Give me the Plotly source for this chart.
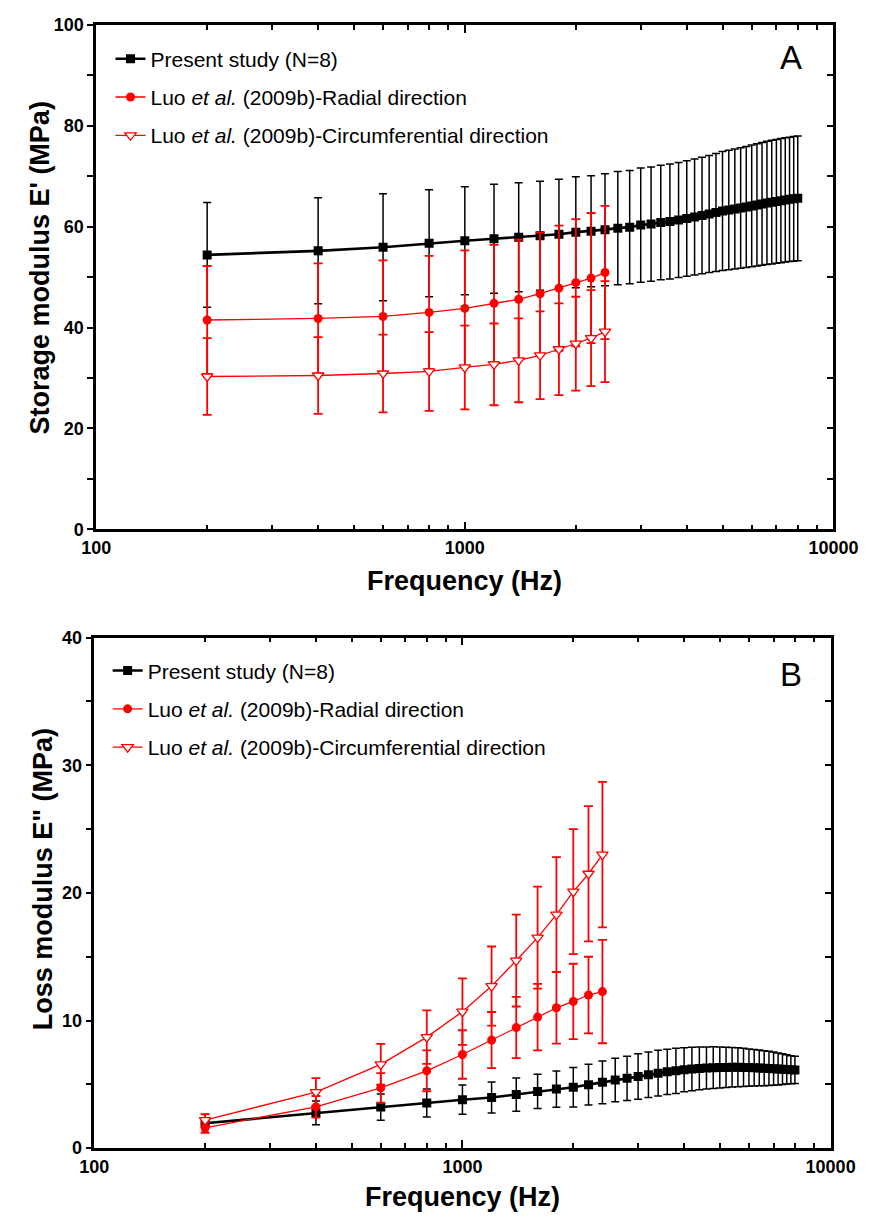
import plotly.graph_objects as go

# ---------------- data ----------------
freq_present = [200 * i for i in range(1, 41)]
freq_luo = [200 * i for i in range(1, 13)]

# Panel A: storage modulus E' (MPa)
A_present = [54.4, 55.2, 55.9, 56.7, 57.2, 57.6, 57.9, 58.2, 58.5, 58.9,
             59.1, 59.4, 59.7, 59.9, 60.3, 60.5, 60.8, 61.0, 61.3, 61.6,
             61.9, 62.2, 62.5, 62.8, 63.1, 63.3, 63.5, 63.7, 63.9, 64.1,
             64.3, 64.5, 64.7, 64.85, 65.0, 65.15, 65.3, 65.4, 65.5, 65.6]
A_present_sd = [10.4, 10.5, 10.6, 10.6, 10.7, 10.8, 10.8, 10.8, 10.9, 11.0,
                11.0, 11.1, 11.2, 11.2, 11.3, 11.3, 11.35, 11.4, 11.4, 11.45,
                11.5, 11.55, 11.6, 11.7, 11.8, 11.85, 11.9, 11.95, 12.0, 12.05,
                12.1, 12.15, 12.2, 12.25, 12.25, 12.3, 12.3, 12.3, 12.35, 12.35]
A_radial = [41.5, 41.8, 42.2, 43.0, 43.8, 44.8, 45.6, 46.7, 47.8, 48.9, 49.8, 50.9]
A_radial_sd = [10.7, 10.9, 11.1, 11.2, 11.5, 11.6, 11.8, 12.1, 12.4, 12.6, 12.9, 13.2]
A_circ = [30.3, 30.5, 30.9, 31.3, 32.1, 32.7, 33.5, 34.5, 35.7, 36.8, 37.9, 39.2]
A_circ_sd = [7.6, 7.6, 7.7, 7.8, 8.3, 8.1, 8.3, 8.7, 9.1, 9.3, 9.5, 10.0]

# Panel B: loss modulus E'' (MPa)
B_present = [1.95, 2.77, 3.22, 3.54, 3.8, 3.97, 4.2, 4.45, 4.63, 4.78,
             4.98, 5.16, 5.34, 5.47, 5.62, 5.75, 5.88, 5.98, 6.06, 6.14,
             6.2, 6.25, 6.28, 6.31, 6.32, 6.33, 6.34, 6.34, 6.33, 6.32,
             6.31, 6.29, 6.27, 6.25, 6.23, 6.21, 6.19, 6.17, 6.15, 6.13]
B_present_sd = [0.7, 0.93, 1.03, 1.1, 1.15, 1.22, 1.3, 1.35, 1.42, 1.55,
                1.6, 1.68, 1.7, 1.73, 1.78, 1.78, 1.8, 1.78, 1.77, 1.72,
                1.7, 1.68, 1.65, 1.63, 1.6, 1.58, 1.55, 1.53, 1.5, 1.46,
                1.43, 1.4, 1.37, 1.34, 1.3, 1.25, 1.2, 1.15, 1.1, 1.07]
B_radial = [1.6, 3.24, 4.72, 6.06, 7.34, 8.47, 9.45, 10.27, 11.0, 11.5, 12.0, 12.27]
B_radial_sd = [0.4, 0.85, 1.16, 1.6, 1.9, 2.2, 2.4, 2.6, 2.8, 2.95, 3.0, 4.05]
B_circ = [2.2, 4.39, 6.57, 8.7, 10.7, 12.7, 14.7, 16.5, 18.3, 20.1, 21.5, 23.0]
B_circ_sd = [0.45, 1.1, 1.6, 2.1, 2.6, 3.1, 3.6, 4.0, 4.5, 4.9, 5.3, 5.7]

names = ["Present study (N=8)",
         "Luo <i>et al.</i> (2009b)-Radial direction",
         "Luo <i>et al.</i> (2009b)-Circumferential direction"]
x_ticks = [100, 1000, 10000]
x_minor = [200, 300, 400, 500, 600, 700, 800, 900,
           2000, 3000, 4000, 5000, 6000, 7000, 8000, 9000]

FONT = "Liberation Sans, Arial, sans-serif"
W, H = 890, 1230

def px(x):
    return x / W

def py(y):
    return 1 - y / H

fig = go.Figure()

def add_panel(xa, ya, legend, yp, yp_sd, yr, yr_sd, yc, yc_sd):
    fig.add_trace(go.Scatter(
        x=freq_present, y=yp, name=names[0], mode="lines+markers",
        xaxis=xa, yaxis=ya, legend=legend, legendgroup=legend + "a",
        line=dict(color="black", width=2.6),
        marker=dict(symbol="square", size=9, color="black"),
        error_y=dict(type="data", array=yp_sd, color="black", thickness=1.5, width=4)))
    fig.add_trace(go.Scatter(
        x=freq_luo, y=yr, name=names[1], mode="lines+markers",
        xaxis=xa, yaxis=ya, legend=legend, legendgroup=legend + "b",
        line=dict(color="red", width=1.3),
        marker=dict(symbol="circle", size=9, color="red"),
        error_y=dict(type="data", array=yr_sd, color="red", thickness=1.8, width=4.5)))
    fig.add_trace(go.Scatter(
        x=freq_luo, y=yc, name=names[2], mode="lines+markers",
        xaxis=xa, yaxis=ya, legend=legend, legendgroup=legend + "c",
        line=dict(color="red", width=1.3),
        marker=dict(symbol="triangle-down", size=10, color="white",
                    line=dict(color="red", width=1.3)),
        error_y=dict(type="data", array=yc_sd, color="red", thickness=1.8, width=4.5)))

add_panel("x", "y", "legend", A_present, A_present_sd, A_radial, A_radial_sd, A_circ, A_circ_sd)
add_panel("x2", "y2", "legend2", B_present, B_present_sd, B_radial, B_radial_sd, B_circ, B_circ_sd)

# dummy traces so the right-side tick axes exist
fig.add_trace(go.Scatter(x=[None], y=[None], xaxis="x", yaxis="y3", showlegend=False))
fig.add_trace(go.Scatter(x=[None], y=[None], xaxis="x2", yaxis="y4", showlegend=False))

tickfont = dict(family=FONT, size=18, color="black", weight="bold")

def xaxis(domain, anchor):
    return dict(domain=domain, anchor=anchor, type="log",
                range=[2, 4], tickvals=x_ticks, ticktext=[str(v) for v in x_ticks],
                ticks="inside", ticklen=8, tickwidth=2, tickcolor="black",
                minor=dict(tickvals=x_minor, ticks="inside", ticklen=5,
                           tickwidth=2, tickcolor="black", showgrid=False),
                showline=True, linewidth=2.5, linecolor="black", mirror="ticks",
                showgrid=False, zeroline=False, tickfont=tickfont)

def yaxis(domain, anchor, rng, dt):
    return dict(domain=domain, anchor=anchor, range=rng, dtick=dt * 2,
                ticks="outside", ticklen=6, tickwidth=2, tickcolor="black",
                minor=dict(dtick=dt, ticks="outside", ticklen=6, tickwidth=2,
                           tickcolor="black", showgrid=False),
                showline=True, linewidth=2.5, linecolor="black", mirror=True,
                showgrid=False, zeroline=False, tickfont=tickfont)

def yright(over, anchor, rng, dt):
    return dict(overlaying=over, anchor=anchor, side="right", range=rng,
                dtick=dt, ticks="inside", ticklen=6, tickwidth=2, tickcolor="black",
                showticklabels=False, showgrid=False, zeroline=False, showline=False)

xdomA = [px(85), px(857)]
xdomB = [px(83), px(854)]
ydomA = [py(528), py(15)]
ydomB = [py(1157), py(638)]

legfont = dict(family=FONT, size=21, color="black")

fig.update_layout(
    width=W, height=H, margin=dict(l=0, r=0, t=0, b=0),
    paper_bgcolor="white", plot_bgcolor="white",
    xaxis=xaxis(xdomA, "y"),
    yaxis=yaxis(ydomA, "x", [0, 100], 10),
    xaxis2=xaxis(xdomB, "y2"),
    yaxis2=yaxis(ydomB, "x2", [0, 40], 5),
    yaxis3=yright("y", "x", [0, 100], 10),
    yaxis4=yright("y2", "x2", [0, 40], 5),
    legend=dict(x=px(100), y=py(29), xanchor="left", yanchor="top",
                bgcolor="rgba(0,0,0,0)", font=legfont, traceorder="grouped",
                tracegroupgap=8, itemwidth=30),
    legend2=dict(x=px(97), y=py(651), xanchor="left", yanchor="top",
                 bgcolor="rgba(0,0,0,0)", font=legfont, traceorder="grouped",
                 tracegroupgap=8, itemwidth=30),
    font=dict(family=FONT, color="black"),
)

titlefont = dict(family=FONT, size=27, color="black", weight="bold")
annots = [
    dict(text="Frequency (Hz)", x=px(471), y=py(580), font=titlefont),
    dict(text="Frequency (Hz)", x=px(469), y=py(1207), font=titlefont),
    dict(text="Storage modulus E' (MPa)", x=px(26), y=py(262), font=titlefont, textangle=-90),
    dict(text="Loss modulus E\" (MPa)", x=px(29), y=py(884), font=titlefont, textangle=-90),
    dict(text="A", x=px(813), y=py(48), font=dict(family=FONT, size=33, color="black")),
    dict(text="B", x=px(812), y=py(675), font=dict(family=FONT, size=33, color="black")),
]
for a in annots:
    fig.add_annotation(xref="paper", yref="paper", showarrow=False,
                       xanchor="center", yanchor="middle", **a)

fig.write_html("out.html")
